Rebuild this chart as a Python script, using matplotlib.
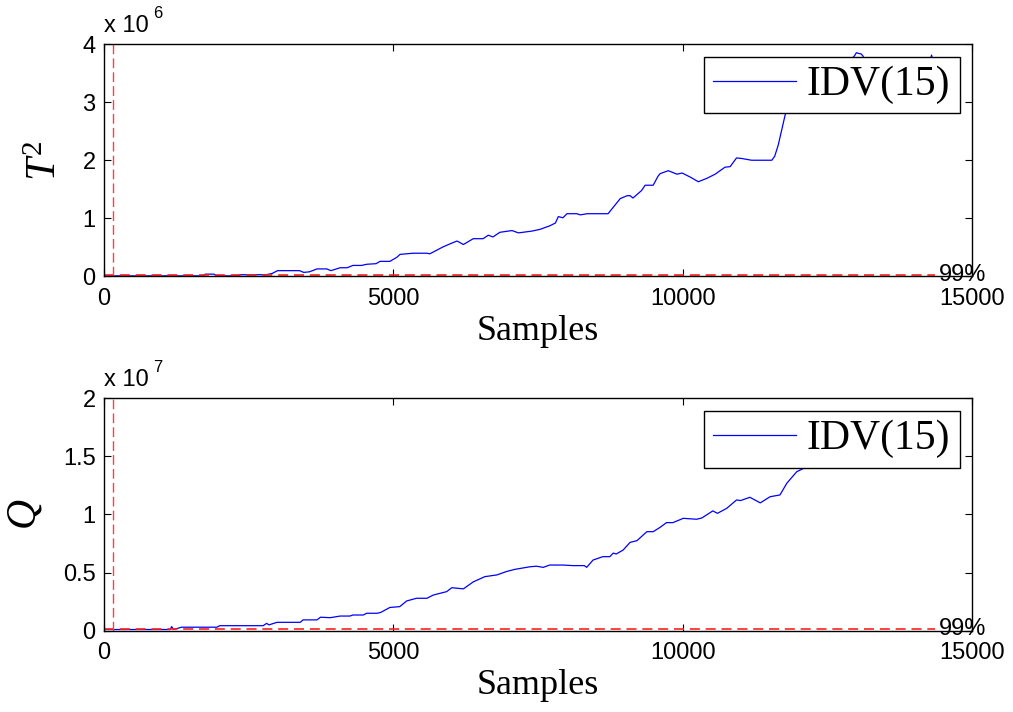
import matplotlib
matplotlib.use("Agg")
import matplotlib.pyplot as plt

plt.rcParams['mathtext.fontset'] = 'custom'
plt.rcParams['mathtext.it'] = 'Liberation Serif:italic'
plt.rcParams['mathtext.rm'] = 'Liberation Serif'
plt.rcParams['mathtext.bf'] = 'Liberation Serif:bold'

# ---------------- data ----------------
t2_samples = [0, 160, 1700, 1750, 1900, 1950, 2300, 2350, 2800, 2900, 3000, 3380, 3450, 3550,
              3680, 3850, 3920, 4080, 4200, 4300, 4450, 4540, 4700, 4770, 4940, 5060, 5115,
              5340, 5580, 5630, 5860, 6000, 6100, 6210, 6380, 6550, 6640, 6720, 6840, 7050,
              7160, 7390, 7530, 7700, 7800, 7850, 7930, 8000, 8170, 8230, 8350, 8710, 8920,
              9040, 9090, 9140, 9290, 9350, 9490, 9570, 9610, 9750, 9900, 9990, 10130, 10270,
              10420, 10560, 10730, 10820, 10930, 11020, 11190, 11540, 11590, 11650, 11710,
              11770, 11850, 12000, 12300, 12600, 12900, 12970, 13000, 13030, 13080, 13110,
              13160, 13500, 14000, 14270, 14300, 14320, 14360]
t2_values = [0.01, 0.01, 0.01, 0.04, 0.04, 0.01, 0.01, 0.03, 0.03, 0.05, 0.10, 0.10, 0.07, 0.08,
             0.13, 0.13, 0.10, 0.15, 0.15, 0.19, 0.19, 0.21, 0.22, 0.26, 0.26, 0.33, 0.38,
             0.40, 0.40, 0.39, 0.51, 0.57, 0.61, 0.55, 0.65, 0.65, 0.71, 0.68, 0.76, 0.79,
             0.75, 0.78, 0.81, 0.87, 0.92, 1.03, 1.01, 1.08, 1.08, 1.06, 1.08, 1.08, 1.34,
             1.39, 1.39, 1.35, 1.48, 1.57, 1.57, 1.72, 1.77, 1.82, 1.76, 1.78, 1.71, 1.63,
             1.69, 1.76, 1.88, 1.89, 2.04, 2.03, 2.00, 2.00, 2.07, 2.26, 2.52,
             2.78, 3.00, 3.30, 3.50, 3.60, 3.72, 3.80, 3.85, 3.84, 3.83, 3.80,
             3.70, 3.60, 3.65, 3.70, 3.81, 3.70, 3.70]  # x 10^6

q_samples = [0, 1140, 1170, 1200, 1340, 1950, 2000, 2750, 2810, 2850, 2990, 3390, 3440, 3680,
             3740, 3905, 3960, 4080, 4250, 4300, 4480, 4540, 4720, 4780, 4940, 5110, 5230,
             5400, 5580, 5690, 5920, 6010, 6210, 6380, 6580, 6790, 6960, 7100, 7360, 7470,
             7590, 7700, 7930, 8100, 8300, 8340, 8450, 8620, 8740, 8800, 8850, 8970, 9090,
             9210, 9380, 9490, 9610, 9720, 9830, 10010, 10240, 10330, 10520, 10600, 10760,
             10930, 11000, 11160, 11340, 11510, 11680, 11800, 11970, 12140, 12400, 12800,
             13200, 13700, 14100, 14360]
q_values = [0.01, 0.01, 0.035, 0.01, 0.03, 0.03, 0.043, 0.043, 0.063, 0.05, 0.072, 0.072, 0.093, 0.093,
            0.116, 0.112, 0.116, 0.126, 0.126, 0.135, 0.135, 0.15, 0.15, 0.157, 0.20, 0.207, 0.256,
            0.279, 0.279, 0.307, 0.336, 0.37, 0.36, 0.42, 0.465, 0.48, 0.51, 0.528, 0.55, 0.555,
            0.545, 0.565, 0.565, 0.56, 0.56, 0.545, 0.608, 0.637, 0.637, 0.668, 0.66, 0.694, 0.76,
            0.775, 0.852, 0.852, 0.89, 0.93, 0.93, 0.967, 0.959, 0.97, 1.031, 1.01, 1.053,
            1.125, 1.12, 1.148, 1.10, 1.153, 1.168, 1.27, 1.368, 1.41, 1.48, 1.55,
            1.60, 1.66, 1.70, 1.72]  # x 10^7

n_samples = 14360
fault_start = 160
t2_limit = 0.02   # x 10^6
q_limit = 0.012   # x 10^7

x_ticks = [0, 5000, 10000, 15000]
t2_yticks = [0, 1, 2, 3, 4]
q_yticks = [0, 0.5, 1, 1.5, 2]
series_name = 'IDV(15)'

# ---------------- figure ----------------
fig = plt.figure(figsize=(10.13, 7.12), dpi=100)
ax1 = fig.add_axes([0.1027, 0.6117, 0.8569, 0.3265])
ax2 = fig.add_axes([0.1027, 0.1142, 0.8569, 0.3264])

tick_font = dict(family='Liberation Sans', size=17)
serif = 'Liberation Serif'

panels = [
    (ax1, t2_samples, t2_values, t2_limit, 4, t2_yticks, ['0', '1', '2', '3', '4'], r'$T^2$', '6'),
    (ax2, q_samples, q_values, q_limit, 2, q_yticks, ['0', '0.5', '1', '1.5', '2'], r'$Q$', '7'),
]

for ax, xs, ys, lim, ymax, yt, ytl, ylab, expo in panels:
    ax.plot(xs, ys, color='#0000ff', lw=0.9, label=series_name)
    ax.plot([1, n_samples], [lim, lim], color='#ff2020', lw=1.2, dashes=(6, 3.5))
    ax.plot([fault_start, fault_start], [0, ymax], color='#ff4040', lw=1.0, dashes=(7, 3))
    ax.text(n_samples + 60, lim, '99%', va='center', ha='left', fontsize=17,
            family='Liberation Sans')
    ax.set_xlim(0, 15000)
    ax.set_ylim(0, ymax)
    ax.set_xticks(x_ticks)
    ax.set_xticklabels([str(v) for v in x_ticks], fontdict=tick_font)
    ax.set_yticks(yt)
    ax.set_yticklabels(ytl, fontdict=tick_font)
    ax.tick_params(direction='in', top=True, right=True, length=5, width=0.8,
                   pad=6)
    ax.tick_params(axis='x', pad=8)
    for s in ax.spines.values():
        s.set_linewidth(1.0)
    ax.set_xlabel('Samples', family=serif, fontsize=26, labelpad=4)
    ax.set_ylabel(ylab, fontsize=30, labelpad=13)
    ax.annotate('x 10', xy=(0, 1), xycoords='axes fraction', xytext=(0, 9),
                textcoords='offset points', ha='left', va='baseline',
                family='Liberation Sans', fontsize=17)
    ax.annotate(expo, xy=(0, 1), xycoords='axes fraction', xytext=(35, 19),
                textcoords='offset points', ha='left', va='baseline',
                family='Liberation Sans', fontsize=12)
    leg = ax.legend(loc='upper right', prop=dict(family=serif, size=30),
                    fancybox=False, edgecolor='black', framealpha=1,
                    borderpad=0.22, handlelength=2.0, handletextpad=0.25,
                    borderaxespad=0.3)
    leg.get_frame().set_linewidth(1.0)

fig.savefig('out.png', dpi=100)
